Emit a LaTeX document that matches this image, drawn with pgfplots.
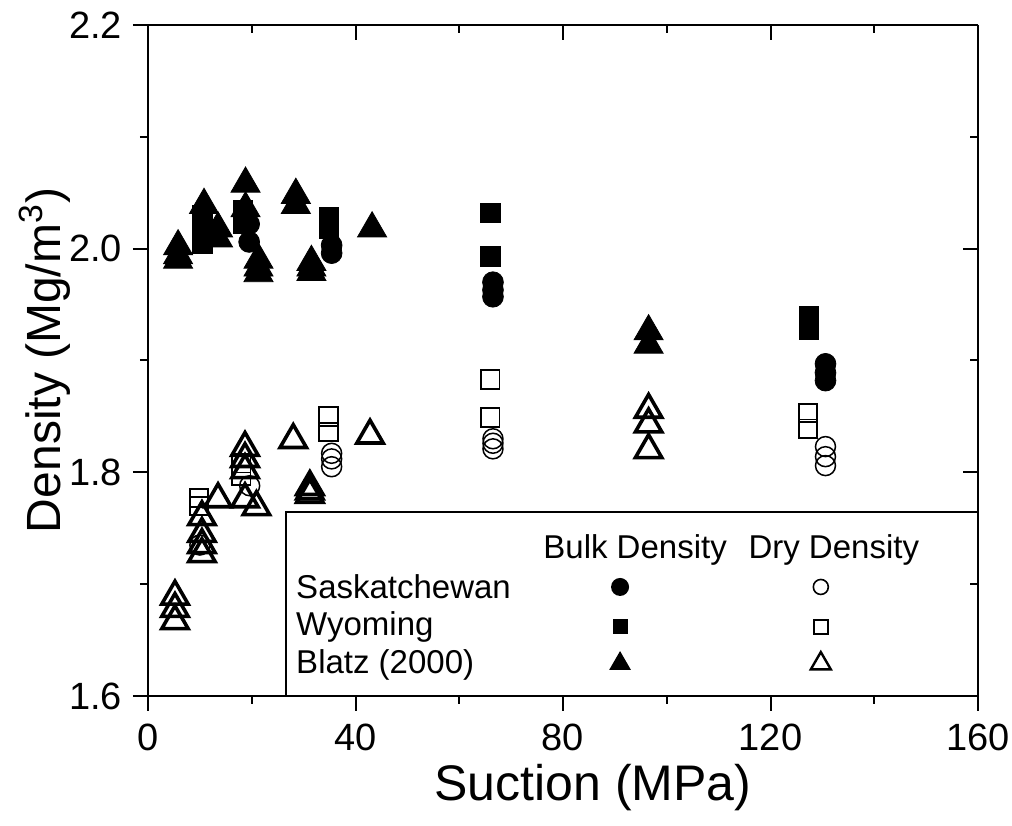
\documentclass[border=0pt]{standalone}
\usepackage{fontspec}
\setmainfont{Liberation Sans}
\usepackage{pgfplots}
\pgfplotsset{compat=1.18}
\usetikzlibrary{shapes.geometric}
\begin{document}
\begin{tikzpicture}
\pgfplotsset{
  fcirc/.style={only marks, mark=*, mark size=5.2pt, mark options={solid, fill=black, draw=black}},
  ocirc/.style={only marks, mark=o, mark size=5pt, mark options={solid, draw=black, line width=0.75pt}},
  fsq/.style={only marks, mark=square*, mark size=4.8pt, mark options={solid, fill=black, draw=black}},
  osq/.style={only marks, mark=square, mark size=4.6pt, mark options={solid, draw=black, line width=0.9pt}},
  ftri/.style={only marks, mark=triangle*, mark size=8.4pt, mark options={solid, fill=black, draw=black}},
  otri/.style={only marks, mark=triangle, mark size=7.6pt, mark options={solid, draw=black, line width=1.8pt}},
}
\begin{axis}[
  name=ax,
  scale only axis, width=415pt, height=335.5pt,
  xmin=0, xmax=160, ymin=1.6, ymax=2.2,
  axis x line*=bottom, axis y line*=left,
  axis line style={line width=1pt, -},
  tick align=outside,
  major tick length=7.5pt, minor tick length=4pt,
  every tick/.style={line width=1pt, black},
  xtick={0,40,80,120,160}, minor x tick num=1,
  ytick={1.6,1.8,2.0,2.2}, minor y tick num=1,
  yticklabel style={/pgf/number format/fixed, /pgf/number format/fixed zerofill, /pgf/number format/precision=1},
  /pgf/number format/assume math mode=true,
  tick label style={font=\fontsize{19}{22}\selectfont},
  xticklabel style={yshift=-3pt},
  yticklabel style={xshift=-2pt},
  xlabel={Suction (MPa)}, ylabel={Density (Mg/m\textsuperscript{3})},
  every axis x label/.style={at={(axis description cs:0.536,-0.136)}, anchor=center, font=\fontsize{25}{28}\selectfont},
  every axis y label/.style={at={(axis description cs:-0.124,0.5)}, anchor=center, rotate=90, font=\fontsize{24}{28}\selectfont},
  clip=false,
]
% Saskatchewan bulk
\addplot[fcirc] coordinates {(19.5,2.022) (19.5,2.006) (35.4,2.003) (35.4,1.996) (66.5,1.970) (66.5,1.963) (66.5,1.957) (130.6,1.897) (130.6,1.889) (130.6,1.882)};
% Wyoming bulk
\addplot[fsq] coordinates {(10.5,2.030) (10.5,2.020) (10.5,2.010) (10.5,2.004) (18.3,2.035) (18.3,2.022) (34.8,2.028) (34.8,2.018) (66,2.032) (66,1.993) (127.4,1.940) (127.4,1.933) (127.4,1.927)};
% Blatz bulk
\addplot[ftri] coordinates {(5.8,2.002) (5.8,1.994) (5.8,1.990) (10.8,2.039) (13.5,2.018) (13.5,2.009) (18.8,2.058) (18.8,2.036) (21.3,1.990) (21.3,1.983) (21.3,1.978) (28.5,2.048) (28.5,2.039) (31.5,1.988) (31.5,1.983) (31.5,1.979) (43.2,2.018) (96.5,1.926) (96.5,1.914)};
% Saskatchewan dry
\addplot[ocirc] coordinates {(10,1.735) (19.6,1.788) (35.4,1.817) (35.4,1.812) (35.4,1.805) (66.5,1.830) (66.5,1.826) (66.5,1.821) (130.6,1.823) (130.6,1.814) (130.6,1.806)};
% Wyoming dry
\addplot[osq] coordinates {(9.8,1.777) (9.8,1.770) (18,1.808) (18,1.797) (34.8,1.850) (34.8,1.836) (66,1.883) (66,1.849) (127.2,1.853) (127.2,1.839)};
% Blatz dry
\addplot[otri] coordinates {(5.2,1.689) (5.2,1.678) (5.2,1.667) (10.4,1.760) (10.4,1.745) (10.4,1.735) (10.4,1.727) (13.5,1.776) (18.7,1.822) (18.7,1.812) (18.7,1.802) (18.7,1.776) (20.9,1.769) (28,1.829) (31.2,1.787) (31.2,1.783) (31.2,1.780) (42.8,1.833) (96.5,1.856) (96.5,1.843) (96.5,1.820)};
% legend box
\draw[line width=0.75pt, fill=white] (axis cs:26.6,1.6) rectangle (axis cs:160,1.7644);
\begin{scope}[every node/.style={font=\fontsize{16.5}{20}\selectfont, inner sep=0pt}]
\node[anchor=center] at (axis cs:93.9,1.7305) {Bulk Density};
\node[anchor=center] at (axis cs:132.2,1.7305) {Dry Density};
\node[anchor=west] at (axis cs:28.5,1.6975) {Saskatchewan};
\node[anchor=west] at (axis cs:28.5,1.6617) {Wyoming};
\node[anchor=west] at (axis cs:28.5,1.6277) {Blatz (2000)};
\end{scope}
\node[circle, fill=black, inner sep=0pt, minimum size=9pt] at (axis cs:91,1.6975) {};
\node[circle, draw=black, line width=0.8pt, inner sep=0pt, minimum size=7.5pt] at (axis cs:129.7,1.6975) {};
\node[rectangle, fill=black, inner sep=0pt, minimum size=7.5pt] at (axis cs:91,1.6617) {};
\node[rectangle, draw=black, line width=0.8pt, inner sep=0pt, minimum size=7pt] at (axis cs:129.7,1.6617) {};
\node[regular polygon, regular polygon sides=3, fill=black, inner sep=0pt, minimum size=12.5pt] at (axis cs:91,1.6290) {};
\node[regular polygon, regular polygon sides=3, draw=black, line width=1.2pt, inner sep=0pt, minimum size=11.5pt] at (axis cs:129.7,1.6290) {};
\end{axis}
\begin{axis}[
  scale only axis, width=415pt, height=335.5pt,
  xmin=0, xmax=160, ymin=1.6, ymax=2.2,
  axis x line*=top, axis y line*=right,
  axis line style={line width=1pt, -},
  tick align=inside,
  major tick length=7.5pt, minor tick length=4pt,
  every tick/.style={line width=1pt, black},
  xtick={0,40,80,120,160}, minor x tick num=1,
  ytick={1.6,1.8,2.0,2.2}, minor y tick num=1,
  xticklabels={}, yticklabels={},
]
\end{axis}
\pgfresetboundingbox
\useasboundingbox ([shift={(-74pt,-65pt)}]ax.south west) rectangle ([shift={(17pt,12.5pt)}]ax.north east);
\end{tikzpicture}
\end{document}
